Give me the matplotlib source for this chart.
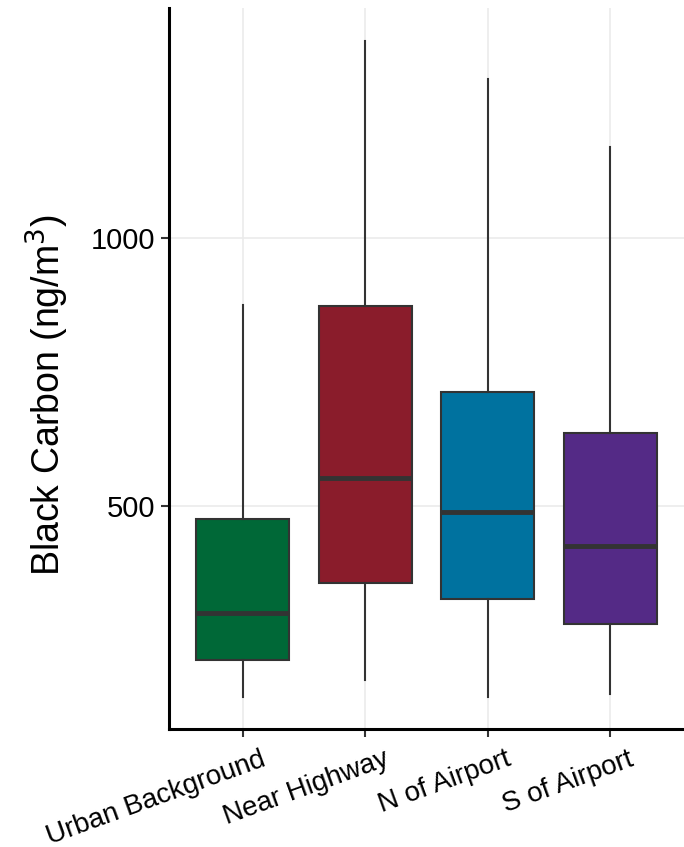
import numpy as np
import matplotlib.pyplot as plt
from matplotlib.transforms import ScaledTranslation, blended_transform_factory

plt.rcParams['font.family'] = ['Liberation Sans', 'DejaVu Sans']

# ==============================================================================
# Black carbon summary statistics per site (ng/m3)
# ==============================================================================
sites = ['Urban Background', 'Near Highway', 'N of Airport', 'S of Airport']
whisker_low = [144, 174, 144, 148]
q1 = [213, 356, 326, 279]
median = [300, 551, 489, 425]
q3 = [476, 873, 712, 635]
whisker_high = [874, 1367, 1296, 1170]
fill_colors = ['#006837', '#8a1c2b', '#00729f', '#542a86']


def build_stats():
    stats = []
    for i, name in enumerate(sites):
        stats.append(dict(label=name, whislo=whisker_low[i], q1=q1[i], med=median[i],
                          q3=q3[i], whishi=whisker_high[i], fliers=[]))
    return stats


fig = plt.figure(figsize=(6.84, 8.47), dpi=100)
ax = fig.add_axes([0.247, 0.139, 0.753, 0.851])

positions = np.arange(1, len(sites) + 1)
bp = ax.bxp(build_stats(), positions=positions, widths=0.76, patch_artist=True,
            showcaps=False, showfliers=False,
            boxprops=dict(edgecolor='#333333', linewidth=1.5),
            whiskerprops=dict(color='#333333', linewidth=1.5),
            medianprops=dict(color='#333333', linewidth=3.5, solid_capstyle='butt'),
            zorder=3)
for patch, c in zip(bp['boxes'], fill_colors):
    patch.set_facecolor(c)

# ggplot-like expansion of the axes
ax.set_xlim(0.4, len(sites) + 0.6)
span = max(whisker_high) - min(whisker_low)
ax.set_ylim(min(whisker_low) - 0.05 * span, max(whisker_high) + 0.05 * span)

ax.set_yticks([500, 1000])
ax.set_yticklabels(['500', '1000'])
ax.set_xticks(positions)
ax.set_xticklabels([])

# rotated site names, anchored a little right of each tick
label_trans = blended_transform_factory(ax.transData, ax.transAxes) + \
    ScaledTranslation(18 / 100, -17 / 100, fig.dpi_scale_trans)
for pos, name in zip(positions, sites):
    ax.text(pos, 0, name, transform=label_trans, rotation=20, ha='right', va='top',
            rotation_mode='anchor', fontsize=20, clip_on=False)

ax.grid(True, color='#ebebeb', linewidth=1.2, zorder=0)
ax.set_axisbelow(True)
for side in ['top', 'right']:
    ax.spines[side].set_visible(False)
for side in ['left', 'bottom']:
    ax.spines[side].set_linewidth(2.2)
    ax.spines[side].set_color('black')

ax.tick_params(axis='both', length=6, width=1.5, color='#333333',
               labelcolor='black', pad=4)
ax.tick_params(axis='y', labelsize=21)
ax.set_ylabel('Black Carbon (ng/m$^3$)', fontsize=27)
ax.yaxis.set_label_coords(-0.19, 0.463)

fig.savefig('out.png', dpi=100)
